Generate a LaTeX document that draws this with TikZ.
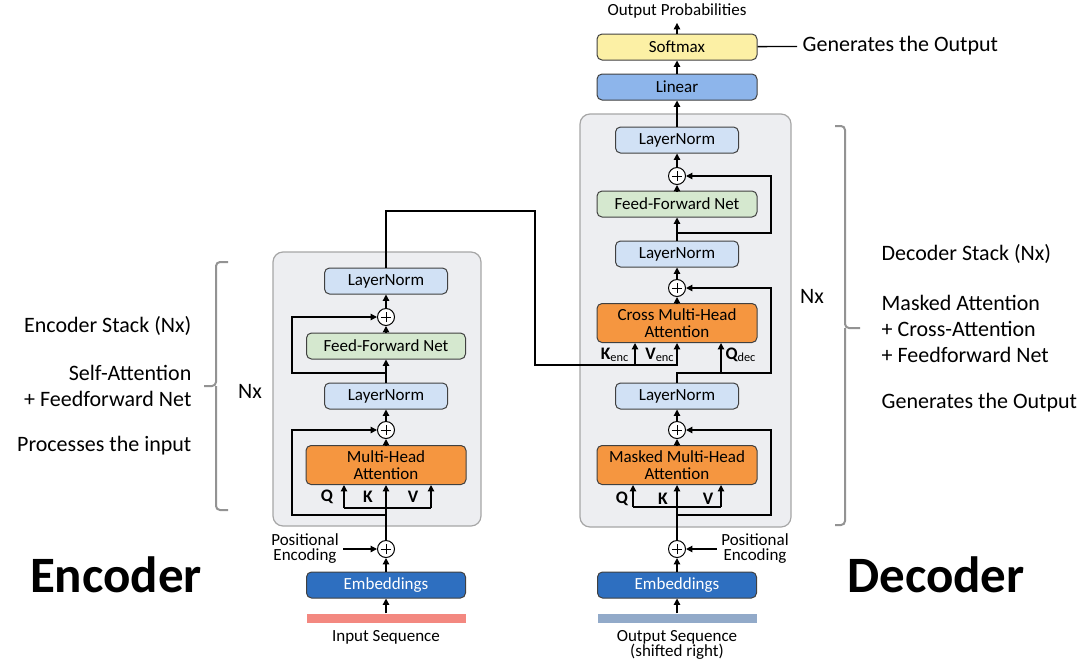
\documentclass[tikz,border=0pt]{standalone}
\usepackage{fontspec}
\setmainfont{Carlito}
\usetikzlibrary{arrows.meta}

\definecolor{panelgray}{RGB}{237,238,241}
\definecolor{lnblue}{RGB}{209,225,245}
\definecolor{ffgreen}{RGB}{213,232,207}
\definecolor{mhaorange}{RGB}{245,150,64}
\definecolor{embblue}{RGB}{46,111,192}
\definecolor{linblue}{RGB}{141,181,235}
\definecolor{softyellow}{RGB}{252,240,165}
\definecolor{inred}{RGB}{243,136,128}
\definecolor{outblue}{RGB}{146,170,201}

% small labels with tight leading
\newcommand{\tightlbl}{\fontsize{8.5}{7.5}\selectfont\lineskiplimit=-5pt\relax}

\begin{document}
\begin{tikzpicture}[
        x=0.5pt, y=-0.5pt,
        >={Triangle[length=3.2pt,width=3.2pt]},
        line width=0.65pt]

        \tikzstyle{blk}=[
            draw = black!75,
            line width = 0.5pt,
            rounded corners = 2.5pt,
            minimum height = 13pt,
            inner sep = 1pt,
            align = center,
            font = \fontsize{8.5}{8.5}\selectfont
        ]
        \tikzstyle{panel}=[
            draw = gray!70,
            fill = panelgray,
            line width = 0.6pt,
            rounded corners = 5pt
        ]
        \tikzset{ln/.style={blk, fill=lnblue, minimum width=61.5pt}}
        \tikzset{ffn/.style={blk, fill=ffgreen, minimum width=79.5pt}}
        \tikzset{mha/.style={blk, fill=mhaorange, minimum width=80pt, minimum height=19.5pt}}
        \tikzset{emb/.style={blk, fill=embblue, text=white, minimum width=79.5pt}}
        \tikzset{add/.style={circle, draw, fill=white, line width=0.5pt,
            minimum size=8.5pt, inner sep=0pt,
            path picture={\draw[line width=0.5pt] (path picture bounding box.center)
                +(-2.6pt,0) -- +(2.6pt,0) +(0,-2.6pt) -- +(0,2.6pt);}}}
        \tikzset{bar/.style={minimum width=79.5pt, minimum height=4.5pt, inner sep=0pt}}
        \tikzset{l/.style={font=\tightlbl, align=center, inner sep=2pt}}
        \tikzset{qkv/.style={font=\fontsize{8.8}{8.8}\selectfont\bfseries, inner sep=0pt}}
        \tikzset{side/.style={font=\fontsize{11}{13.2}\selectfont, inner sep=0pt}}
        \tikzset{big/.style={font=\fontsize{25.5}{26}\selectfont\bfseries}}
        \tikzset{nxbrace/.style={draw=gray!85, line width=1pt, rounded corners=2pt}}

        \useasboundingbox (0,0) rectangle (1085,659);

        % the two stacks
        \draw[panel] (273,252) rectangle (481,526);
        \draw[panel] (580,114) rectangle (791,527);

        % encoder column
        \node[bar, fill=inred] (ebar) at (386,618.5) {};
        \node[l] (eseq) [below of=ebar, node distance=9.25pt] {Input Sequence};
        \node[emb] (eemb) [above of=ebar, node distance=16.75pt] {Embeddings};
        \node[add] (eadd0) [above of=eemb, node distance=18pt] {};
        \node[l] (epos) at (305,549) {Positional\\Encoding};
        \node[mha] (emha) [above of=eadd0, node distance=42pt] {Multi-Head\\Attention};
        \node[add] (eadd1) [above of=emha, node distance=17.5pt] {};
        \node[ln] (eln1) [above of=eadd1, node distance=17pt] {LayerNorm};
        \node[ffn] (effn) [above of=eln1, node distance=25pt] {Feed-Forward Net};
        \node[add] (eadd2) [above of=effn, node distance=14.5pt] {};
        \node[ln] (eln2) [above of=eadd2, node distance=18pt] {LayerNorm};

        \node[qkv] (eql) at (327,497) {Q};
        \node[qkv] (ekl) at (368,497) {K};
        \node[qkv] (evl) at (413,497) {V};

        % decoder column
        \node[bar, fill=outblue] (dbar) at (677,618.5) {};
        \node[l] (dseq) [below of=dbar, node distance=13pt] {Output Sequence\\(shifted right)};
        \node[emb] (demb) [above of=dbar, node distance=16.75pt] {Embeddings};
        \node[add] (dadd0) [above of=demb, node distance=18pt] {};
        \node[l] (dpos) at (755,549) {Positional\\Encoding};
        \node[mha] (dmha) [above of=dadd0, node distance=42pt] {Masked Multi-Head\\Attention};
        \node[add] (dadd1) [above of=dmha, node distance=17.5pt] {};
        \node[ln] (dln1) [above of=dadd1, node distance=17pt] {LayerNorm};
        \node[mha] (dcmha) [above of=dln1, node distance=36.5pt] {Cross Multi-Head\\Attention};
        \node[add] (dadd2) [above of=dcmha, node distance=17.5pt] {};
        \node[ln] (dln2) [above of=dadd2, node distance=17pt] {LayerNorm};
        \node[ffn, minimum width=80pt] (dffn) [above of=dln2, node distance=25pt] {Feed-Forward Net};
        \node[add] (dadd3) [above of=dffn, node distance=14pt] {};
        \node[ln] (dln3) [above of=dadd3, node distance=18pt] {LayerNorm};
        \node[blk, fill=linblue, minimum width=80pt] (lin) [above of=dln3, node distance=26.5pt] {Linear};
        \node[blk, fill=softyellow, minimum width=80pt] (soft) [above of=lin, node distance=20pt] {Softmax};
        \node[l] (outp) [above of=soft, node distance=18pt] {Output Probabilities};
        \node[side, anchor=west, inner sep=2.5pt] (gen) at (797,46) {Generates the Output};

        \node[qkv] (dql) at (622,499) {Q};
        \node[qkv] (dkl) at (663,499) {K};
        \node[qkv] (dvl) at (708,499) {V};
        \node[qkv] (kencl) at (615,355) {K\textsubscript{\mdseries enc}};
        \node[qkv] (vencl) at (660,355) {V\textsubscript{\mdseries enc}};
        \node[qkv] (qdecl) at (741,355) {Q\textsubscript{\mdseries dec}};

        % encoder wiring
        \coordinate (eq) at (344,508);
        \coordinate (ev) at (431,508);
        \coordinate (er1) at (292,515);
        \coordinate (er2) at (292,373);
        \draw[->] (ebar) -- (eemb);
        \draw[->] (eemb) -- (eadd0);
        \draw[->] (epos) -- (eadd0);
        \draw[->] (eadd0) -- (emha);
        \draw (eq) -- (ev);
        \draw[->] (eq) -- (eq |- emha.south);
        \draw[->] (ev) -- (ev |- emha.south);
        \draw[->] (er1 -| eadd0) -- (er1) |- (eadd1);
        \draw[->] (emha) -- (eadd1);
        \draw[->] (eadd1) -- (eln1);
        \draw[->] (eln1) -- (effn);
        \draw[->] (er2 -| eadd0) -- (er2) |- (eadd2);
        \draw[->] (effn) -- (eadd2);
        \draw[->] (eadd2) -- (eln2);

        % encoder output into the cross attention
        \coordinate (eo1) at (535,211);
        \coordinate (eo2) at (535,365);
        \coordinate (kenc) at (635,365);
        \draw[->] (eln2) |- (eo1) -- (eo2) -- (eo2 -| dcmha) -- (dcmha);
        \draw[->] (kenc) -- (kenc |- dcmha.south);

        % decoder wiring
        \coordinate (dq) at (633,507);
        \coordinate (dv) at (721,507);
        \coordinate (dr1) at (771,515);
        \coordinate (dr2) at (771,373);
        \coordinate (qdec) at (721,373);
        \coordinate (dr3) at (771,233);
        \draw[->] (dbar) -- (demb);
        \draw[->] (demb) -- (dadd0);
        \draw[->] (dpos) -- (dadd0);
        \draw[->] (dadd0) -- (dmha);
        \draw (dq) -- (dv);
        \draw[->] (dq) -- (dq |- dmha.south);
        \draw[->] (dv) -- (dv |- dmha.south);
        \draw[->] (dr1 -| dadd0) -- (dr1) |- (dadd1);
        \draw[->] (dmha) -- (dadd1);
        \draw[->] (dadd1) -- (dln1);
        \draw[->] (dln1) -- (dln1 |- dr2) -- (dr2) |- (dadd2);
        \draw[->] (qdec) -- (qdec |- dcmha.south);
        \draw[->] (dcmha) -- (dadd2);
        \draw[->] (dadd2) -- (dln2);
        \draw[->] (dln2) -- (dffn);
        \draw[->] (dr3 -| dffn) -- (dr3) |- (dadd3);
        \draw[->] (dffn) -- (dadd3);
        \draw[->] (dadd3) -- (dln3);
        \draw[->] (dln3) -- (lin);
        \draw[->] (lin) -- (soft);
        \draw[->] (soft) -- (outp);
        \draw (soft) -- (gen);

        % Nx braces and notes
        \draw[nxbrace] (228,262) -| (216,386) -- (204,386);
        \draw[nxbrace] (216,386) |- (228,510);
        \draw[nxbrace] (835,126) -| (845,328) -- (860,328);
        \draw[nxbrace] (845,328) |- (835,525);
        \node[side] (enx) at (250,391) {Nx};
        \node[side] (dnx) at (812,296) {Nx};

        \node[side, anchor=east] (estack) at (192,326) {Encoder Stack (Nx)};
        \node[side, anchor=east, align=right] (ewhat) at (192,386) {Self-Attention\\+ Feedforward Net};
        \node[side, anchor=east] (egoal) at (192,446) {Processes the input};

        \node[side, anchor=west] (dstack) at (881,254) {Decoder Stack (Nx)};
        \node[side, anchor=west, align=left] (dwhat) at (881,329) {Masked Attention\\+ Cross-Attention\\+ Feedforward Net};
        \node[side, anchor=west] (dgoal) at (881,403) {Generates the Output};

        \node[big] (etitle) at (116,575) {Encoder};
        \node[big] (dtitle) at (936,575) {Decoder};
    \end{tikzpicture}
\end{document}
